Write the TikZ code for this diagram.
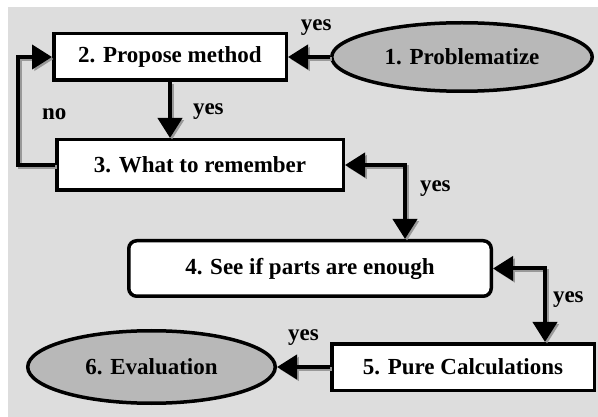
\documentclass[tikz,border=0pt]{standalone}
\usepackage{fontspec}
\setmainfont{Liberation Serif}
\usepackage{xcolor}
\usepackage{tikz}
\usetikzlibrary{arrows.meta, shapes.geometric, positioning}
\definecolor{fondo}{HTML}{DDDDDD}
\definecolor{relleno}{HTML}{B8B8B8}
\definecolor{sombra}{HTML}{999999}

\begin{document}
\begin{tikzpicture}[x=1pt, y=-1pt, punta/.tip={Triangle[length=20pt, width=24pt]},
  font=\fontsize{23}{27}\selectfont\bfseries, line width=3.5pt,
  paso/.style={draw, fill=white, inner sep=0pt},
  ovalo/.style={draw, ellipse, fill=relleno, inner sep=0pt},
  etiq/.style={inner sep=0pt},
  flecha/.style={line width=4pt, preaction={draw=sombra, transform canvas={shift={(2pt,-2pt)}}}}]
\useasboundingbox (0,0) rectangle (598,417);
\fill[fondo] (8,7) rectangle (598,417);

% Pasos
\node[paso, minimum width=232.5pt, minimum height=46.5pt] (propose) at (170,57) {2. Propose method};
\node[ovalo, right=42pt of propose, minimum width=260.5pt, minimum height=68.5pt] (prob) {1. Problematize};
\node[paso, below right=56pt and 3pt of propose.south west, minimum width=286.5pt, minimum height=50.5pt] (remember) {3. What to remember};
\node[paso, rounded corners=8pt, below right=47pt and 72pt of remember.south west, minimum width=362.5pt, minimum height=55.5pt] (enough) {4. See if parts are enough};
\node[paso, below right=44pt and 203pt of enough.south west, minimum width=262.5pt, minimum height=46.5pt] (calc) {5. Pure Calculations};
\node[ovalo, left=53pt of calc, minimum width=247.5pt, minimum height=72.5pt] (eval) {6. Evaluation};

% Conexiones
\draw[flecha, -punta] (prob) -- node[etiq, pos=0.33, anchor=base, yshift=26pt] (s1) {yes} (propose);
\draw[flecha, -punta] (propose) -- node[etiq, anchor=base west, xshift=21pt, yshift=-5pt] (s2) {yes} (propose |- remember.north);
\draw[flecha, -punta] (remember.west) -| node[etiq, pos=0.75, anchor=base west, xshift=22pt, yshift=-9pt] (n1) {no} ([xshift=-34pt]propose.west) -- (propose.west);
\draw[flecha, punta-punta] (remember.east) -| node[etiq, pos=0.75, anchor=base west, xshift=13pt, yshift=10pt] (s3) {yes} ([xshift=95pt]enough.north);
\draw[flecha, punta-punta] (enough.east) -| node[etiq, pos=0.75, anchor=base west, xshift=6pt, yshift=3pt] (s4) {yes} ([xshift=82pt]calc.north);
\draw[flecha, -punta] (calc) -- node[etiq, anchor=base, yshift=26pt] (s5) {yes} (eval);
\end{tikzpicture}
\end{document}
